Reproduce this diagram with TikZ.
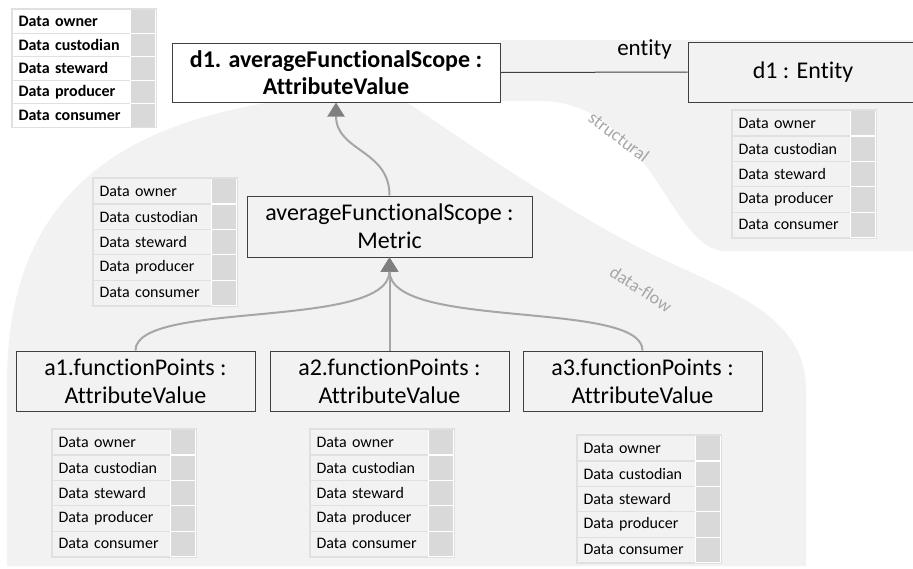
\documentclass[tikz,border=0pt]{standalone}
\usepackage{fontspec}
\setmainfont{Carlito}[Ligatures={NoCommon}]
\usetikzlibrary{arrows.meta}
\definecolor{bggray}{HTML}{F2F2F2}
\definecolor{cellline}{HTML}{E0E0E0}
\definecolor{cellgray}{HTML}{D9D9D9}
\definecolor{flowgray}{HTML}{A6A6A6}
\definecolor{tipgray}{HTML}{7F7F7F}
\definecolor{boxline}{HTML}{404040}
\definecolor{labgray}{HTML}{A6A6A6}
\newcommand\roletable[5]{%
  \foreach \lab [count=\i] in {Data owner, Data custodian, Data steward, Data producer, Data consumer}{
    \node[rolecell, minimum height=#4pt, font={\fontsize{16}{19}\selectfont#5}, anchor=north west]
      (#1-t\i) at (#2, {#3+(\i-1)*#4}) {\lab};
    \node[graycell, minimum height=#4pt, anchor=north west]
      (#1-g\i) at ({#2+118}, {#3+(\i-1)*#4}) {};
  }
  \draw[cellline, line width=1.2pt] (#1-t1.north west) rectangle (#1-g5.south east);
}
\begin{document}
\begin{tikzpicture}[x=1pt,y=-1pt,
  box/.style={draw=boxline, line width=1pt, align=center, inner sep=0pt,
    font=\fontsize{24}{28}\selectfont},
  rolecell/.style={draw=cellline, line width=1.2pt, minimum width=118pt, text width=106pt,
    align=left, inner xsep=6pt, inner ysep=0pt},
  graycell/.style={fill=cellgray, draw=white, line width=1.2pt, minimum width=25pt, inner sep=0pt},
  flow/.style={draw=flowgray, line width=2pt, -{Triangle[length=14pt,width=17pt,color=tipgray]}},
  assoc/.style={draw=boxline, line width=1pt},
  bandlabel/.style={text=labgray, font=\fontsize{18}{21}\selectfont, inner sep=0pt}
]
\useasboundingbox (0,0) rectangle (913,568);
% background bands
\fill[bggray] (300,98) .. controls (140,118) and (8,180) .. (7,380) -- (7,566) -- (806,566)
  -- (806,390) .. controls (806,320) and (740,295) .. (660,258)
  .. controls (560,210) and (450,130) .. (400,98) -- cycle;
\fill[bggray] (500,40) -- (913,40) -- (913,251) -- (725,251)
  .. controls (670,251) and (650,101) .. (540,101) -- (500,101) -- cycle;
\node[bandlabel, rotate=-37] (structlab) at (619,137) {structural};
\node[bandlabel, rotate=-33] (dflowlab) at (641,289) {data-flow};

% main nodes
\node[box, fill=white, font=\fontsize{24}{27}\selectfont\bfseries, minimum width=328pt, minimum height=59pt]
  (d1) at (336,72.5) {d1. averageFunctionalScope :\\AttributeValue};
\node[box, minimum width=230pt, minimum height=60pt] (ent) at (803,72) {d1 : Entity};
\node[box, minimum width=285pt, minimum height=61pt] (metric) at (389.5,226.5) {averageFunctionalScope :\\Metric};
\node[box, minimum width=239pt, minimum height=60pt] (a1) at (135.5,381) {a1.functionPoints :\\AttributeValue};
\node[box, minimum width=239pt, minimum height=60pt] (a2) at (389.5,381) {a2.functionPoints :\\AttributeValue};
\node[box, minimum width=239pt, minimum height=60pt] (a3) at (642.5,381) {a3.functionPoints :\\AttributeValue};

% connectors
\draw[assoc] (d1.east) -- (ent.west)
  node[pos=0.77, above=12pt, font=\fontsize{23}{27}\selectfont, inner sep=0pt] (entlab) {entity};
\draw[flow] (metric.north) .. controls +(0,-46) and +(0,49) .. (d1.south);
\draw[flow] (a1.north) .. controls +(0,-51) and +(0,73) .. (metric.south);
\draw[flow] (a2.north) -- (metric.south);
\draw[flow] (a3.north) .. controls +(0,-51) and +(0,73) .. (metric.south);

% role tables
\roletable{tl}{12}{9}{23.5}{\bfseries}
\roletable{te}{732}{110}{25.4}{}
\roletable{tm}{93}{178}{25.4}{}
\roletable{taa}{52}{429}{25.4}{}
\roletable{tab}{310}{429}{25.4}{}
\roletable{tac}{577}{435}{25.4}{}
\end{tikzpicture}
\end{document}
